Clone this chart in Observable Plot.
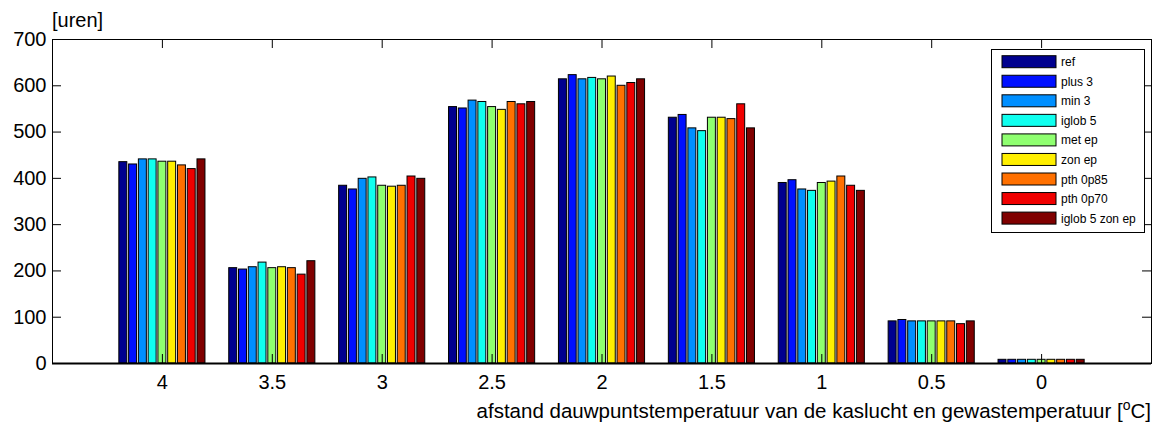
<!DOCTYPE html>
<html>
<head>
<meta charset="utf-8">
<script src="https://cdn.jsdelivr.net/npm/d3@7"></script>
<script src="https://cdn.jsdelivr.net/npm/@observablehq/plot@0.6"></script>
<style>
  html, body { margin: 0; padding: 0; background: #fff; }
  #chart svg { display: block; }
</style>
</head>
<body>
<div id="chart"></div>
<script>
// Hours per dew-point distance class, one array per scenario
const categories = ["4", "3.5", "3", "2.5", "2", "1.5", "1", "0.5", "0"];
const series = ["ref", "plus 3", "min 3", "iglob 5", "met ep", "zon ep", "pth 0p85", "pth 0p70", "iglob 5 zon ep"];
const colors = ["#00008f", "#0010ff", "#008fff", "#10ffef", "#8fff70", "#ffef00", "#ff7000", "#f00000", "#800000"];

const ref       = [435, 206, 384, 554, 614, 531, 390, 91, 8];
const plus3     = [430, 203, 376, 551, 623, 537, 396, 94, 8];
const min3      = [441, 208, 399, 568, 614, 508, 376, 91, 8];
const iglob5    = [441, 218, 402, 565, 617, 502, 373, 91, 8];
const metEp     = [436, 206, 384, 554, 614, 531, 390, 91, 8];
const zonEp     = [436, 208, 382, 548, 620, 531, 393, 91, 8];
const pth0p85   = [428, 206, 384, 565, 600, 528, 404, 91, 8];
const pth0p70   = [420, 192, 404, 560, 606, 560, 384, 85, 8];
const iglob5Zon = [441, 221, 399, 565, 614, 508, 373, 91, 8];

const yTicks = [0, 100, 200, 300, 400, 500, 600, 700];
const yLabel = "[uren]";
const xLabel = "afstand dauwpuntstemperatuur van de kaslucht en gewastemperatuur [";

const values = [ref, plus3, min3, iglob5, metEp, zonEp, pth0p85, pth0p70, iglob5Zon];

// Grouped layout: group i sits at x = i + 1, bars share 0.8 of the unit
const groupWidth = 0.8;
const barStep = groupWidth / series.length;
const rows = [];
categories.forEach((cat, gi) => {
  series.forEach((s, si) => {
    const x1 = gi + 1 - groupWidth / 2 + si * barStep;
    rows.push({category: cat, series: s, value: values[si][gi], x1, x2: x1 + barStep});
  });
});
const xTicks = categories.map((_, i) => i + 1);

const W = 1155, H = 427;
const mL = 52, mR = 4, mT = 39, mB = 64;
const innerW = W - mL - mR, innerH = H - mT - mB;
const tickLen = 9;
const font = "'Liberation Sans', Arial, Helvetica, sans-serif";

const chart = Plot.plot({
  width: W,
  height: H,
  marginLeft: mL,
  marginRight: mR,
  marginTop: mT,
  marginBottom: mB,
  style: {fontFamily: font, background: "#fff", color: "#000"},
  x: {domain: [0, categories.length + 1], axis: null},
  y: {domain: [0, 700], axis: null},
  color: {domain: series, range: colors},
  marks: [
    Plot.rectY(rows, {
      x1: "x1", x2: "x2", y: "value", fill: "series",
      insetLeft: 0.9, insetRight: 0.9,
      stroke: "#000", strokeWidth: 1
    }),
    // inward ticks on all four sides
    Plot.tickY(yTicks, {y: d => d, insetRight: innerW - tickLen, stroke: "#000"}),
    Plot.tickY(yTicks, {y: d => d, insetLeft: innerW - tickLen, stroke: "#000"}),
    Plot.tickX(xTicks, {x: d => d, insetTop: innerH - tickLen, stroke: "#000"}),
    Plot.tickX(xTicks, {x: d => d, insetBottom: innerH - tickLen, stroke: "#000"}),
    Plot.frame({stroke: "#000", strokeWidth: 1}),
    Plot.ruleY([0], {stroke: "#000", strokeWidth: 2}),
    Plot.axisY(yTicks, {anchor: "left", label: null, tickSize: 0, tickPadding: 6, fontSize: 20}),
    Plot.axisX(xTicks, {anchor: "bottom", label: null, tickSize: 0, tickPadding: 11, fontSize: 20,
      tickFormat: d => categories[d - 1]})
  ]
});

document.getElementById("chart").appendChild(chart);

const svg = d3.select(chart);

// unit label above the y axis
svg.append("text")
  .attr("x", mL)
  .attr("y", 27)
  .attr("text-anchor", "start")
  .attr("font-family", font)
  .attr("font-size", 20)
  .attr("fill", "#000")
  .text(yLabel);

// x axis title with superscript degree sign
const xt = svg.append("text")
  .attr("x", W - mR)
  .attr("y", 418)
  .attr("text-anchor", "end")
  .attr("font-family", font)
  .attr("font-size", 20.5)
  .attr("fill", "#000");
xt.append("tspan").text(xLabel);
xt.append("tspan").attr("font-size", 14).attr("dy", -8).text("o");
xt.append("tspan").attr("dy", 8).text("C]");

// legend box
const lg = svg.append("g").attr("font-family", font).attr("font-size", 12).attr("text-anchor", "start");
lg.append("rect")
  .attr("x", 991.5).attr("y", 49.5)
  .attr("width", 153).attr("height", 183)
  .attr("fill", "#fff").attr("stroke", "#000");
series.forEach((s, i) => {
  const cy = 61.7 + i * 19.55;
  lg.append("rect")
    .attr("x", 1002).attr("y", cy - 6)
    .attr("width", 54).attr("height", 12)
    .attr("fill", colors[i]).attr("stroke", "#000");
  lg.append("text")
    .attr("x", 1061).attr("y", cy + 4.5)
    .attr("text-anchor", "start")
    .attr("fill", "#000")
    .text(s);
});
</script>
</body>
</html>
